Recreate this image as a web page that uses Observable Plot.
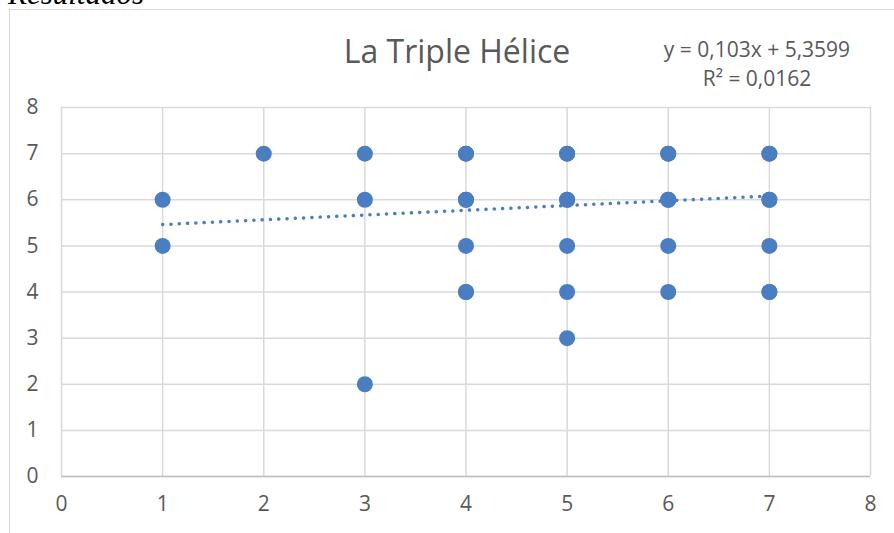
<!DOCTYPE html>
<html><head><meta charset="utf-8">
<script src="https://cdn.jsdelivr.net/npm/d3@7"></script>
<script src="https://cdn.jsdelivr.net/npm/@observablehq/plot@0.6"></script>
<style>
body{margin:0;background:#fff;width:894px;height:533px;overflow:hidden;position:relative;font-family:"Open Sans",sans-serif}
#frame{position:absolute;left:9px;top:9px;width:900px;height:540px;border:1.5px solid #d9d9d9;box-sizing:border-box}
#head{position:absolute;left:8px;top:-22px;font:italic 31px "Liberation Serif",serif;color:#000;line-height:31px;white-space:nowrap}
#title{position:absolute;left:0;width:914px;top:29px;text-align:center;font-size:32px;line-height:44px;color:#595959}
#eq{position:absolute;left:640px;width:234px;top:35px;text-align:center;font-size:21px;line-height:29px;color:#595959}
#chart{position:absolute;left:0;top:0}
</style></head><body>
<div id="head">Resultados</div>
<div id="frame"></div>
<div id="chart"></div>
<div id="title">La Triple Hélice</div>
<div id="eq">y = 0,103x + 5,3599<br>R² = 0,0162</div>
<script>
const xs = [1,1,2,3,3,3,4,4,4,4,4,4,4,5,5,5,5,5,5,5,6,6,6,6,6,6,7,7,7,7,7,7,7];
const ys = [6,5,7,7,6,2,7,7,6,6,5,4,4,7,7,6,6,5,4,3,7,7,6,6,5,4,7,7,6,6,5,4,4];
const slope = [0.103];
const intercept = [5.3599];
const trendX = [1,7];
const ticks = [0,1,2,3,4,5,6,7,8];
const pts = xs.map((x,i)=>({x, y: ys[i]}));
const trend = trendX.map(x=>({x, y: intercept[0] + slope[0]*x}));
const plot = Plot.plot({
  width: 894, height: 533,
  marginLeft: 61, marginRight: 24, marginTop: 107, marginBottom: 57,
  style: {fontFamily: "Open Sans, sans-serif", fontSize: "21px", color: "#595959", background: "transparent"},
  x: {domain: [0,8], label: null},
  y: {domain: [0,8], label: null},
  marks: [
    Plot.gridX(ticks, {stroke: "#d9d9d9", strokeOpacity: 1, strokeWidth: 1.5}),
    Plot.gridY(ticks, {stroke: "#d9d9d9", strokeOpacity: 1, strokeWidth: 1.5}),
    Plot.ruleY([0], {stroke: "#bfbfbf", strokeWidth: 1.5}),
    Plot.axisX({ticks, tickSize: 0, tickPadding: 20, fill: "#595959", fontSize: 21, label: null}),
    Plot.axisY({ticks, tickSize: 0, tickPadding: 23, fill: "#595959", fontSize: 21, label: null}),
    Plot.line(trend, {x: "x", y: "y", stroke: "#4a7ec0", strokeWidth: 3.5, strokeDasharray: "0.1 8.2", strokeLinecap: "round"}),
    Plot.dot(pts, {x: "x", y: "y", r: 8, fill: "#4a7ec0", fillOpacity: 1})
  ]
});
document.getElementById("chart").appendChild(plot);
</script>
</body></html>
